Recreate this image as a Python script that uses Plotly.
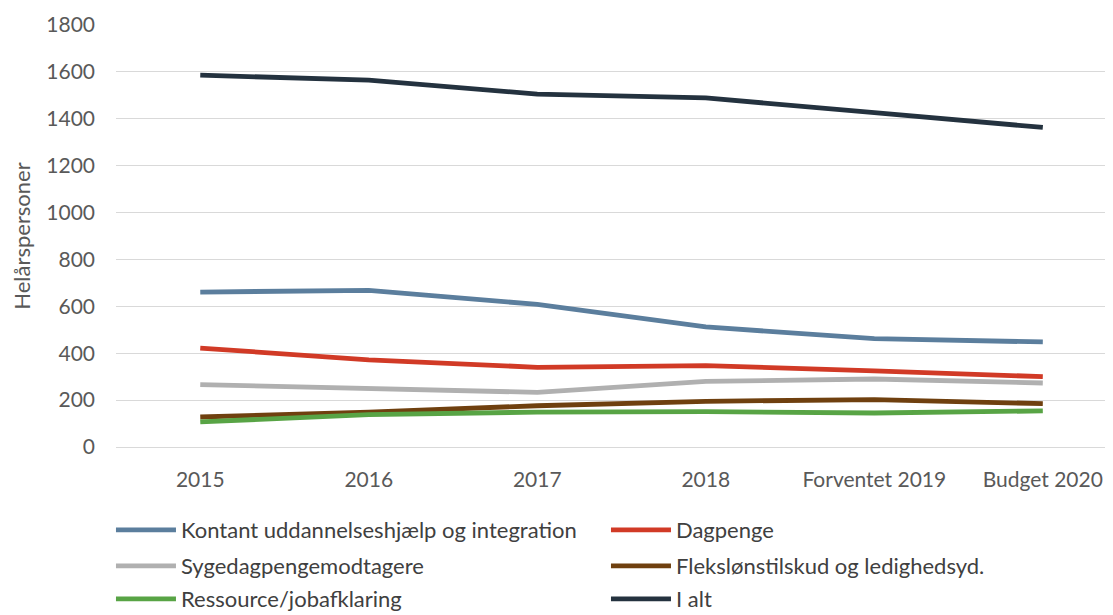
import plotly.graph_objects as go

categories = ["2015", "2016", "2017", "2018", "Forventet 2019", "Budget 2020"]
kontant = [661, 668, 608, 512, 462, 448]
dagpenge = [422, 372, 340, 347, 325, 300]
sygedagpenge = [266, 247, 233, 280, 290, 273]
fleks = [128, 149, 176, 195, 202, 185]
ressource = [107, 138, 149, 151, 145, 154]
i_alt = [1586, 1565, 1505, 1489, 1426, 1363]

names = [
    "Kontant uddannelseshjælp og integration",
    "Dagpenge",
    "Sygedagpengemodtagere",
    "Flekslønstilskud og ledighedsyd.",
    "Ressource/jobafklaring",
    "I alt",
]
values = [kontant, dagpenge, sygedagpenge, fleks, ressource, i_alt]
colors = ["#5b7e9d", "#d13a26", "#b0b0b0", "#6f400f", "#58a445", "#24323f"]
legend_rows = ["legend", "legend", "legend2", "legend2", "legend3", "legend3"]

font_family = "Lato, Open Sans, sans-serif"

fig = go.Figure()
for name, vals, color, lg in zip(names, values, colors, legend_rows):
    fig.add_trace(go.Scatter(
        x=list(range(len(categories))), y=vals, name=name, mode="lines",
        line=dict(color=color, width=4.8), legend=lg,
    ))

plot_top, plot_bottom = 17, 615 - 176
plot_h = plot_bottom - plot_top


def legend_cfg(row_center_y):
    # row_center_y in screen px (page offset 8)
    yc = row_center_y - 8
    ypaper = (plot_bottom - yc) / plot_h
    return dict(
        orientation="h", x=-0.005, xanchor="left", y=ypaper, yanchor="middle",
        entrywidth=420, entrywidthmode="pixels",
        font=dict(size=22, color="#404040"), itemwidth=60,
        bgcolor="rgba(0,0,0,0)",
    )


fig.update_layout(
    width=1113, height=615,
    margin=dict(l=108, r=0, t=plot_top, b=615 - plot_bottom, autoexpand=False),
    paper_bgcolor="white", plot_bgcolor="white",
    font=dict(family=font_family, size=21, color="#595959"),
    showlegend=True,
    legend=legend_cfg(530),
    legend2=legend_cfg(566),
    legend3=legend_cfg(599),
    xaxis=dict(
        tickmode="array", tickvals=list(range(len(categories))), ticktext=categories,
        range=[-0.5, 5.464], showgrid=False, zeroline=False, showline=False,
        ticks="", ticklabelstandoff=18, tickfont=dict(size=21, color="#595959"),
        fixedrange=True,
    ),
    yaxis=dict(
        range=[0, 1800], dtick=200, showgrid=True, gridcolor="#d9d9d9", gridwidth=1,
        zeroline=True, zerolinecolor="#d9d9d9", zerolinewidth=1, showline=False,
        ticks="", ticklabelstandoff=20, tickfont=dict(size=21, color="#595959"),
        title=dict(text="Helårspersoner", font=dict(size=22, color="#595959"), standoff=14),
    ),
)

fig.write_html("out.html")
